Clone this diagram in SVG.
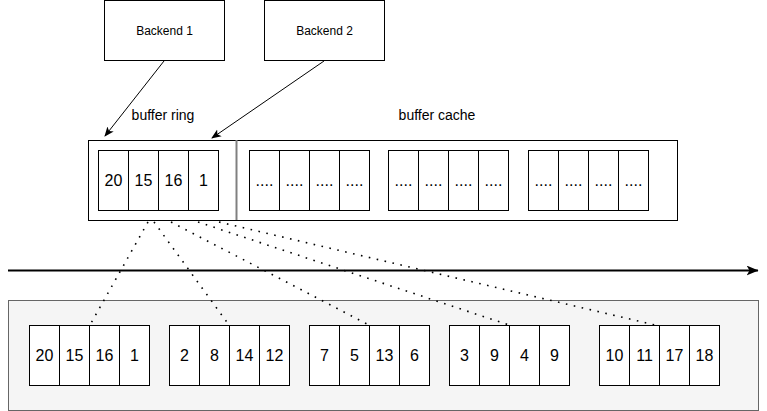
<svg xmlns="http://www.w3.org/2000/svg" width="767" height="411" viewBox="0 0 767 411">
<style>
.box{fill:#fff;stroke:#000;stroke-width:1}
.t{font-family:"Liberation Sans",Arial,sans-serif;fill:#000;text-anchor:middle}
.n{font-size:16px}
.lbl{font-size:14px}
.bk{font-size:12px}
.dot{fill:none;stroke:#000;stroke-width:1.6;stroke-dasharray:1.6 6.5}
</style>
<defs>
<marker id="ah" viewBox="0 0 10 10" refX="9" refY="5" markerWidth="10" markerHeight="10" markerUnits="userSpaceOnUse" orient="auto">
<path d="M0,1 L10,5 L0,9 L2.5,5 Z" fill="#000"/>
</marker>
<marker id="ah2" viewBox="0 0 12 10" refX="11.5" refY="5" markerWidth="12" markerHeight="10" markerUnits="userSpaceOnUse" orient="auto">
<path d="M0,0 L12,5 L0,10 L3,5 Z" fill="#000"/>
</marker>
</defs>

<g id="history">
<rect x="8.5" y="300.5" width="750" height="110" fill="#f5f5f5" stroke="#666" stroke-width="1"/>
</g>

<g id="backend1">
<rect class="box" x="104.5" y="0.5" width="120" height="60"/>
<text class="t bk" x="164.5" y="35">Backend 1</text>
</g>
<g id="backend2">
<rect class="box" x="264.5" y="0.5" width="120" height="60"/>
<text class="t bk" x="324.5" y="35">Backend 2</text>
</g>

<g id="shared-buffers">
<rect class="box" x="88.5" y="140.5" width="589" height="80"/>
<line x1="236.5" y1="140" x2="236.5" y2="220" stroke="#808080" stroke-width="2"/>
<text class="t lbl" x="163" y="120">buffer ring</text>
<text class="t lbl" x="437" y="120">buffer cache</text>
</g>

<g id="ring">
<rect class="box" x="98.5" y="150.5" width="30" height="60"/>
<rect class="box" x="128.5" y="150.5" width="30" height="60"/>
<rect class="box" x="158.5" y="150.5" width="30" height="60"/>
<rect class="box" x="188.5" y="150.5" width="30" height="60"/>
<text class="t n" x="113.5" y="186">20</text>
<text class="t n" x="143.5" y="186">15</text>
<text class="t n" x="173.5" y="186">16</text>
<text class="t n" x="203.5" y="186">1</text>
</g>

<g id="cache1">
<rect class="box" x="249.5" y="150.5" width="30" height="60"/>
<rect class="box" x="279.5" y="150.5" width="30" height="60"/>
<rect class="box" x="309.5" y="150.5" width="30" height="60"/>
<rect class="box" x="339.5" y="150.5" width="30" height="60"/>
<text class="t n" x="264.5" y="186">....</text>
<text class="t n" x="294.5" y="186">....</text>
<text class="t n" x="324.5" y="186">....</text>
<text class="t n" x="354.5" y="186">....</text>
</g>
<g id="cache2">
<rect class="box" x="388.5" y="150.5" width="30" height="60"/>
<rect class="box" x="418.5" y="150.5" width="30" height="60"/>
<rect class="box" x="448.5" y="150.5" width="30" height="60"/>
<rect class="box" x="478.5" y="150.5" width="30" height="60"/>
<text class="t n" x="403.5" y="186">....</text>
<text class="t n" x="433.5" y="186">....</text>
<text class="t n" x="463.5" y="186">....</text>
<text class="t n" x="493.5" y="186">....</text>
</g>
<g id="cache3">
<rect class="box" x="528.5" y="150.5" width="30" height="60"/>
<rect class="box" x="558.5" y="150.5" width="30" height="60"/>
<rect class="box" x="588.5" y="150.5" width="30" height="60"/>
<rect class="box" x="618.5" y="150.5" width="30" height="60"/>
<text class="t n" x="543.5" y="186">....</text>
<text class="t n" x="573.5" y="186">....</text>
<text class="t n" x="603.5" y="186">....</text>
<text class="t n" x="633.5" y="186">....</text>
</g>

<g id="h1">
<rect class="box" x="29.5" y="325.5" width="30" height="60"/>
<rect class="box" x="59.5" y="325.5" width="30" height="60"/>
<rect class="box" x="89.5" y="325.5" width="30" height="60"/>
<rect class="box" x="119.5" y="325.5" width="30" height="60"/>
<text class="t n" x="44.5" y="361">20</text>
<text class="t n" x="74.5" y="361">15</text>
<text class="t n" x="104.5" y="361">16</text>
<text class="t n" x="134.5" y="361">1</text>
</g>
<g id="h2">
<rect class="box" x="169.5" y="325.5" width="30" height="60"/>
<rect class="box" x="199.5" y="325.5" width="30" height="60"/>
<rect class="box" x="229.5" y="325.5" width="30" height="60"/>
<rect class="box" x="259.5" y="325.5" width="30" height="60"/>
<text class="t n" x="184.5" y="361">2</text>
<text class="t n" x="214.5" y="361">8</text>
<text class="t n" x="244.5" y="361">14</text>
<text class="t n" x="274.5" y="361">12</text>
</g>
<g id="h3">
<rect class="box" x="309.5" y="325.5" width="30" height="60"/>
<rect class="box" x="339.5" y="325.5" width="30" height="60"/>
<rect class="box" x="369.5" y="325.5" width="30" height="60"/>
<rect class="box" x="399.5" y="325.5" width="30" height="60"/>
<text class="t n" x="324.5" y="361">7</text>
<text class="t n" x="354.5" y="361">5</text>
<text class="t n" x="384.5" y="361">13</text>
<text class="t n" x="414.5" y="361">6</text>
</g>
<g id="h4">
<rect class="box" x="449.5" y="325.5" width="30" height="60"/>
<rect class="box" x="479.5" y="325.5" width="30" height="60"/>
<rect class="box" x="509.5" y="325.5" width="30" height="60"/>
<rect class="box" x="539.5" y="325.5" width="30" height="60"/>
<text class="t n" x="464.5" y="361">3</text>
<text class="t n" x="494.5" y="361">9</text>
<text class="t n" x="524.5" y="361">4</text>
<text class="t n" x="554.5" y="361">9</text>
</g>
<g id="h5">
<rect class="box" x="599.5" y="325.5" width="30" height="60"/>
<rect class="box" x="629.5" y="325.5" width="30" height="60"/>
<rect class="box" x="659.5" y="325.5" width="30" height="60"/>
<rect class="box" x="689.5" y="325.5" width="30" height="60"/>
<text class="t n" x="614.5" y="361">10</text>
<text class="t n" x="644.5" y="361">11</text>
<text class="t n" x="674.5" y="361">17</text>
<text class="t n" x="704.5" y="361">18</text>
</g>

<g id="connectors">
<line x1="164" y1="61" x2="105" y2="136" stroke="#000" stroke-width="1" marker-end="url(#ah)"/>
<line x1="324" y1="61" x2="212" y2="138" stroke="#000" stroke-width="1" marker-end="url(#ah)"/>
<line x1="8" y1="270.5" x2="758" y2="270.5" stroke="#000" stroke-width="2" marker-end="url(#ah2)"/>
<line class="dot" x1="148" y1="222" x2="90" y2="325"/>
<line class="dot" x1="154" y1="222" x2="229" y2="325"/>
<line class="dot" x1="171" y1="222" x2="369" y2="325"/>
<line class="dot" x1="198" y1="222" x2="509" y2="325"/>
<line class="dot" x1="219" y1="222" x2="655" y2="325"/>
</g>
</svg>
